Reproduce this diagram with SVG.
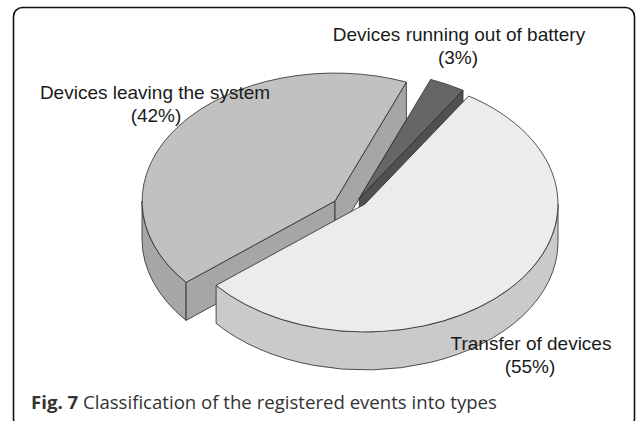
<svg xmlns="http://www.w3.org/2000/svg" width="636" height="421" viewBox="0 0 636 421">
<style>
.edge{stroke:#2a2a2a;stroke-width:0.8;stroke-linejoin:round}
.gtop{fill:#c1c1c1}
.gside{fill:#a6a6a6}
.dtop{fill:#666666}
.dside{fill:#505050}
.ltop{fill:#ebeceb}
.lside{fill:#c9cac9}
.lbl{font-family:"Liberation Sans",Arial,sans-serif;font-size:19px;fill:#1a1a1a;text-anchor:middle}
.cap{font-family:"Open Sans","Noto Sans",sans-serif;font-size:18.6px;fill:#333333}
</style>
<rect x="13.5" y="7.5" width="621" height="420" rx="9" fill="#ffffff" stroke="#111111" stroke-width="1.6"/>
<g id="slice-leaving">
<path class="gside edge" d="M142,201 A193,128 0 0 0 186.1,282.4 L186.1,320.4 A193,128 0 0 1 142,239 Z"/>
<path class="gside edge" d="M335,201 L186.1,282.4 L186.1,320.4 L335,239 Z"/>
<path class="gside edge" d="M335,201 L406.4,82.1 L406.4,120.1 L335,239 Z"/>
<path class="gtop edge" d="M335,201 L406.4,82.1 A193,128 0 0 0 186.1,282.4 Z"/>
</g>
<g id="slice-battery">
<path class="dside edge" d="M359.3,198.3 L463,90.3 L463,128.3 L359.3,236.3 Z"/>
<path class="dtop edge" d="M359.3,198.3 L430.7,79.4 A193,128 0 0 1 463,90.3 Z"/>
</g>
<g id="slice-transfer">
<path class="lside edge" d="M558,204 A193,128 0 0 1 216.1,285.4 L216.1,323.4 A193,128 0 0 0 558,242 Z"/>
<path class="ltop edge" d="M365,204 L468.7,96 A193,128 0 1 1 216.1,285.4 Z"/>
</g>
<g id="labels">
<text class="lbl" x="459" y="41">Devices running out of battery</text>
<text class="lbl" x="458" y="64">(3%)</text>
<text class="lbl" x="155" y="99">Devices leaving the system</text>
<text class="lbl" x="156" y="122">(42%)</text>
<text class="lbl" x="531" y="350">Transfer of devices</text>
<text class="lbl" x="530" y="373">(55%)</text>
</g>
<text class="cap" x="31" y="409"><tspan font-weight="bold">Fig. 7</tspan> Classification of the registered events into types</text>
</svg>
